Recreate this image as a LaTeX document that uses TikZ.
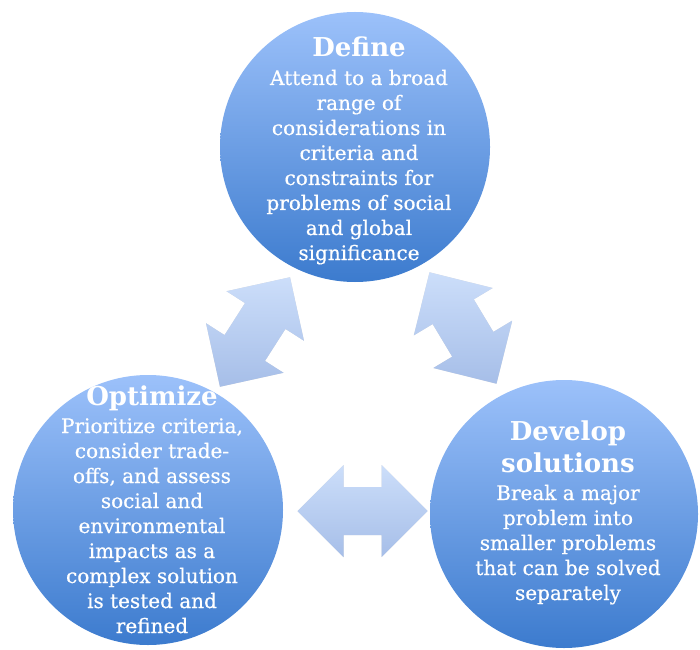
\documentclass[tikz,border=0pt]{standalone}
\usepackage{fontspec}
\setmainfont{DejaVu Serif}
\newfontfamily\bodyfont[FakeBold=0.6]{DejaVu Serif}
\usetikzlibrary{calc}
\definecolor{ctop}{RGB}{156,193,250}
\definecolor{cbot}{RGB}{60,123,206}
\definecolor{atop}{RGB}{204,222,250}
\definecolor{abot}{RGB}{166,190,232}
\newcommand\dblarrowpath[2]{%
  ($(#1)+(#2:65)$) -- ($(#1)+(#2:19)+(#2+90:46)$) -- ($(#1)+(#2:19)+(#2+90:24)$) --
  ($(#1)+(#2+180:19)+(#2+90:24)$) -- ($(#1)+(#2+180:19)+(#2+90:46)$) -- ($(#1)+(#2+180:65)$) --
  ($(#1)+(#2+180:19)+(#2-90:46)$) -- ($(#1)+(#2+180:19)+(#2-90:24)$) --
  ($(#1)+(#2:19)+(#2-90:24)$) -- ($(#1)+(#2:19)+(#2-90:46)$) -- cycle}
\begin{document}
\begin{tikzpicture}[x=1pt,y=1pt,
  bubble/.style={circle, minimum size=270pt, inner sep=0pt, top color=ctop, bottom color=cbot, draw=none},
  ttl/.style={anchor=base, text=white, font=\fontsize{26}{32}\selectfont\bfseries, inner sep=0pt},
  bodytext/.style={anchor=base, text=white, font=\fontsize{20}{25}\selectfont\bodyfont, inner sep=0pt},
  arrowfill/.style={top color=atop, bottom color=abot, draw=none},
  arrowshadow/.style={fill=black, opacity=0.10}]
\useasboundingbox (0,0) rectangle (700,649);
% arrow centres
\coordinate (aleft) at (255,317);
\coordinate (aright) at (463,321);
\coordinate (abottom) at (362.5,138);
% shadows and arrows
\foreach \c/\a in {aleft/57.4, aright/121, abottom/0}{
  \begin{scope}[shift={(2,-3)}]
    \path[arrowshadow] \dblarrowpath{\c}{\a};
  \end{scope}
  \begin{scope}[shift={(3.5,-4.5)}]
    \path[arrowshadow, opacity=0.06] \dblarrowpath{\c}{\a};
  \end{scope}
  \path[arrowfill] \dblarrowpath{\c}{\a};
}
% circles
\node[bubble, minimum size=270pt] (define) at (355,502) {};
\node[bubble, minimum size=270pt] (optimize) at (148,139) {};
\node[bubble, minimum size=268pt] (develop) at (564,135) {};
% texts
\node[ttl] (definet) at (359,592) {Define};
\node[bodytext] (defineb) at (359,564) {\begin{tabular}[t]{@{}c@{}}Attend to a broad\\ range of\\ considerations in\\ criteria and\\ constraints for\\ problems of social\\ and global\\ significance\end{tabular}};
\node[ttl] (optimizet) at (152,244) {Optimize};
\node[bodytext] (optimizeb) at (152,216) {\begin{tabular}[t]{@{}c@{}}Prioritize criteria,\\ consider trade-\\ offs, and assess\\ social and\\ environmental\\ impacts as a\\ complex solution\\ is tested and\\ refined\end{tabular}};
\node[ttl] (developt) at (568,209) {\begin{tabular}[t]{@{}c@{}}Develop\\ solutions\end{tabular}};
\node[bodytext] (developb) at (568,149) {\begin{tabular}[t]{@{}c@{}}Break a major\\ problem into\\ smaller problems\\ that can be solved\\ separately\end{tabular}};
\end{tikzpicture}
\end{document}
